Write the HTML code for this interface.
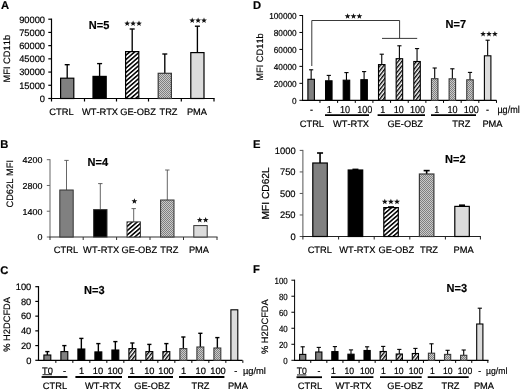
<!DOCTYPE html>
<html><head><meta charset="utf-8"><title>Figure</title>
<style>
html,body{margin:0;padding:0;background:#fff;}
body{width:520px;height:390px;overflow:hidden;}
svg{display:block;filter:grayscale(1);}
svg text{font-family:"Liberation Sans",sans-serif;fill:#000;stroke:#000;stroke-width:0.18px;font-kerning:none;text-rendering:geometricPrecision;}
</style></head><body>
<svg width="520" height="390" viewBox="0 0 520 390">
<defs>
<pattern id="hatch" patternUnits="userSpaceOnUse" width="3.25" height="4" patternTransform="rotate(49)">
<rect width="4" height="4" fill="#fff"/><rect width="1.55" height="4" fill="#000"/></pattern>
<pattern id="hatch2" patternUnits="userSpaceOnUse" width="2.9" height="4" patternTransform="rotate(38)">
<rect width="4" height="4" fill="#fff"/><rect width="1.35" height="4" fill="#000"/></pattern>
<pattern id="dots" patternUnits="userSpaceOnUse" width="2" height="2">
<rect width="2" height="2" fill="#cacaca"/><rect width="1" height="1" fill="#808080"/><rect x="1" y="1" width="1" height="1" fill="#808080"/></pattern>
</defs>
<rect width="520" height="390" fill="#fff"/>
<text x="1" y="8.9" font-size="11.2" text-anchor="start" font-weight="bold" fill="#000" stroke="#000" stroke-width="0.3">A</text>
<line x1="51.5" y1="18.599999999999998" x2="51.5" y2="98.5" stroke="#000" stroke-width="1.2"/>
<line x1="48.3" y1="98.5" x2="51.5" y2="98.5" stroke="#000" stroke-width="1.2"/>
<text x="45" y="101.8" font-size="9.3" text-anchor="end">0</text>
<line x1="48.3" y1="85.28" x2="51.5" y2="85.28" stroke="#000" stroke-width="1.2"/>
<text x="45" y="88.6" font-size="9.3" text-anchor="end">15000</text>
<line x1="48.3" y1="72.07" x2="51.5" y2="72.07" stroke="#000" stroke-width="1.2"/>
<text x="45" y="75.4" font-size="9.3" text-anchor="end">30000</text>
<line x1="48.3" y1="58.85" x2="51.5" y2="58.85" stroke="#000" stroke-width="1.2"/>
<text x="45" y="62.1" font-size="9.3" text-anchor="end">45000</text>
<line x1="48.3" y1="45.63" x2="51.5" y2="45.63" stroke="#000" stroke-width="1.2"/>
<text x="45" y="48.9" font-size="9.3" text-anchor="end">60000</text>
<line x1="48.3" y1="32.42" x2="51.5" y2="32.42" stroke="#000" stroke-width="1.2"/>
<text x="45" y="35.7" font-size="9.3" text-anchor="end">75000</text>
<line x1="48.3" y1="19.2" x2="51.5" y2="19.2" stroke="#000" stroke-width="1.2"/>
<text x="45" y="22.5" font-size="9.3" text-anchor="end">90000</text>
<line x1="50.9" y1="98.5" x2="214.6" y2="98.5" stroke="#000" stroke-width="1.2"/>
<line x1="51.5" y1="98.5" x2="51.5" y2="101.5" stroke="#000" stroke-width="1.2"/>
<line x1="84.5" y1="98.5" x2="84.5" y2="101.5" stroke="#000" stroke-width="1.2"/>
<line x1="116.5" y1="98.5" x2="116.5" y2="101.5" stroke="#000" stroke-width="1.2"/>
<line x1="148.5" y1="98.5" x2="148.5" y2="101.5" stroke="#000" stroke-width="1.2"/>
<line x1="181.3" y1="98.5" x2="181.3" y2="101.5" stroke="#000" stroke-width="1.2"/>
<line x1="214" y1="98.5" x2="214" y2="101.5" stroke="#000" stroke-width="1.2"/>
<line x1="67.2" y1="64.7" x2="67.2" y2="78.2" stroke="#000" stroke-width="1.35"/>
<line x1="64.7" y1="64.7" x2="69.7" y2="64.7" stroke="#000" stroke-width="1.35"/>
<rect x="60.6" y="78.2" width="13.2" height="20.3" fill="#808080" stroke="#000" stroke-width="1.2"/>
<line x1="99.6" y1="63.6" x2="99.6" y2="76.4" stroke="#000" stroke-width="1.35"/>
<line x1="97.1" y1="63.6" x2="102.1" y2="63.6" stroke="#000" stroke-width="1.35"/>
<rect x="93" y="76.4" width="13.2" height="22.1" fill="#000" stroke="#000" stroke-width="1.2"/>
<line x1="132.2" y1="29" x2="132.2" y2="51.6" stroke="#000" stroke-width="1.35"/>
<line x1="129.7" y1="29" x2="134.7" y2="29" stroke="#000" stroke-width="1.35"/>
<rect x="125.6" y="51.6" width="13.2" height="46.9" fill="url(#hatch)" stroke="#000" stroke-width="1.2"/>
<line x1="164.79999999999998" y1="54" x2="164.79999999999998" y2="73.3" stroke="#000" stroke-width="1.35"/>
<line x1="162.29999999999998" y1="54" x2="167.29999999999998" y2="54" stroke="#000" stroke-width="1.35"/>
<rect x="158.2" y="73.3" width="13.2" height="25.2" fill="url(#dots)" stroke="#3a3a3a" stroke-width="1.2"/>
<line x1="197.4" y1="26.2" x2="197.4" y2="52.6" stroke="#000" stroke-width="1.35"/>
<line x1="194.9" y1="26.2" x2="199.9" y2="26.2" stroke="#000" stroke-width="1.35"/>
<rect x="190.8" y="52.6" width="13.2" height="45.9" fill="#dcdcdc" stroke="#000" stroke-width="1.2"/>
<text x="61.5" y="114.8" font-size="9.3" text-anchor="middle">CTRL</text>
<text x="100" y="114.8" font-size="9.3" text-anchor="middle">WT-RTX</text>
<text x="138" y="114.8" font-size="9.3" text-anchor="middle">GE-OBZ</text>
<text x="168.5" y="114.8" font-size="9.3" text-anchor="middle">TRZ</text>
<text x="197" y="114.8" font-size="9.3" text-anchor="middle">PMA</text>
<text transform="translate(10,58.7) rotate(-90) scale(1,1)" font-size="9.3" text-anchor="middle">MFI CD11b</text>
<text transform="translate(88.8,29.3) scale(0.95,1)" font-size="11.6" text-anchor="start" font-weight="bold" fill="#000" stroke="#000" stroke-width="0.3">N=5</text>
<polygon points="127.20,20.54 127.95,22.55 130.10,22.65 128.42,23.99 128.99,26.06 127.20,24.87 125.41,26.06 125.98,23.99 124.30,22.65 126.45,22.55" fill="#111"/>
<polygon points="133.10,20.54 133.85,22.55 136.00,22.65 134.32,23.99 134.89,26.06 133.10,24.87 131.31,26.06 131.88,23.99 130.20,22.65 132.35,22.55" fill="#111"/>
<polygon points="139.00,20.54 139.75,22.55 141.90,22.65 140.22,23.99 140.79,26.06 139.00,24.87 137.21,26.06 137.78,23.99 136.10,22.65 138.25,22.55" fill="#111"/>
<polygon points="192.20,17.44 192.95,19.45 195.10,19.55 193.42,20.89 193.99,22.96 192.20,21.77 190.41,22.96 190.98,20.89 189.30,19.55 191.45,19.45" fill="#111"/>
<polygon points="198.10,17.44 198.85,19.45 201.00,19.55 199.32,20.89 199.89,22.96 198.10,21.77 196.31,22.96 196.88,20.89 195.20,19.55 197.35,19.45" fill="#111"/>
<polygon points="204.00,17.44 204.75,19.45 206.90,19.55 205.22,20.89 205.79,22.96 204.00,21.77 202.21,22.96 202.78,20.89 201.10,19.55 203.25,19.45" fill="#111"/>
<text x="0.2" y="147.6" font-size="11.2" text-anchor="start" font-weight="bold" fill="#000" stroke="#000" stroke-width="0.3">B</text>
<line x1="50" y1="159.2" x2="50" y2="237" stroke="#666" stroke-width="1"/>
<line x1="46.8" y1="237.0" x2="50" y2="237.0" stroke="#666" stroke-width="1"/>
<text transform="translate(42.4,240.3) scale(1.04,1)" font-size="8.6" text-anchor="end">0</text>
<line x1="46.8" y1="211.23" x2="50" y2="211.23" stroke="#666" stroke-width="1"/>
<text transform="translate(42.4,214.5) scale(1.04,1)" font-size="8.6" text-anchor="end">1400</text>
<line x1="46.8" y1="185.47" x2="50" y2="185.47" stroke="#666" stroke-width="1"/>
<text transform="translate(42.4,188.8) scale(1.04,1)" font-size="8.6" text-anchor="end">2800</text>
<line x1="46.8" y1="159.7" x2="50" y2="159.7" stroke="#666" stroke-width="1"/>
<text transform="translate(42.4,163.0) scale(1.04,1)" font-size="8.6" text-anchor="end">4200</text>
<line x1="49.5" y1="237" x2="217.5" y2="237" stroke="#333" stroke-width="1.2"/>
<line x1="50" y1="237" x2="50" y2="240" stroke="#333" stroke-width="1"/>
<line x1="83.2" y1="237" x2="83.2" y2="240" stroke="#333" stroke-width="1"/>
<line x1="116.6" y1="237" x2="116.6" y2="240" stroke="#333" stroke-width="1"/>
<line x1="150" y1="237" x2="150" y2="240" stroke="#333" stroke-width="1"/>
<line x1="183.5" y1="237" x2="183.5" y2="240" stroke="#333" stroke-width="1"/>
<line x1="217" y1="237" x2="217" y2="240" stroke="#333" stroke-width="1"/>
<line x1="66.5" y1="160.4" x2="66.5" y2="190" stroke="#555" stroke-width="0.9"/>
<line x1="64.3" y1="160.4" x2="68.7" y2="160.4" stroke="#555" stroke-width="0.9"/>
<rect x="59.8" y="190" width="13.4" height="47" fill="#808080" stroke="#333" stroke-width="1"/>
<line x1="100.3" y1="183.6" x2="100.3" y2="209.6" stroke="#555" stroke-width="0.9"/>
<line x1="98.1" y1="183.6" x2="102.5" y2="183.6" stroke="#555" stroke-width="0.9"/>
<rect x="93.6" y="209.6" width="13.4" height="27.4" fill="#000" stroke="#333" stroke-width="1"/>
<line x1="133.7" y1="208.6" x2="133.7" y2="221.9" stroke="#555" stroke-width="0.9"/>
<line x1="131.5" y1="208.6" x2="135.89999999999998" y2="208.6" stroke="#555" stroke-width="0.9"/>
<rect x="127" y="221.9" width="13.4" height="15.1" fill="url(#hatch)" stroke="#333" stroke-width="1"/>
<line x1="167.29999999999998" y1="170" x2="167.29999999999998" y2="200" stroke="#555" stroke-width="0.9"/>
<line x1="165.1" y1="170" x2="169.49999999999997" y2="170" stroke="#555" stroke-width="0.9"/>
<rect x="160.6" y="200" width="13.4" height="37" fill="url(#dots)" stroke="#333" stroke-width="1"/>
<rect x="193.8" y="225.6" width="13.4" height="11.4" fill="#dcdcdc" stroke="#333" stroke-width="1"/>
<text x="66" y="252.5" font-size="9.3" text-anchor="middle">CTRL</text>
<text x="101.2" y="252.5" font-size="9.3" text-anchor="middle">WT-RTX</text>
<text x="139.3" y="252.5" font-size="9.3" text-anchor="middle">GE-OBZ</text>
<text x="169.3" y="252.5" font-size="9.3" text-anchor="middle">TRZ</text>
<text x="199" y="252.5" font-size="9.3" text-anchor="middle">PMA</text>
<text transform="translate(12.8,183.8) rotate(-90) scale(1,1)" font-size="9.3" text-anchor="middle">CD62L MFI</text>
<text transform="translate(87.5,166) scale(0.95,1)" font-size="11.6" text-anchor="start" font-weight="bold" fill="#000" stroke="#000" stroke-width="0.3">N=4</text>
<polygon points="134.40,198.24 135.15,200.25 137.30,200.35 135.62,201.69 136.19,203.76 134.40,202.57 132.61,203.76 133.18,201.69 131.50,200.35 133.65,200.25" fill="#111"/>
<polygon points="199.75,217.04 200.50,219.05 202.65,219.15 200.97,220.49 201.54,222.56 199.75,221.37 197.96,222.56 198.53,220.49 196.85,219.15 199.00,219.05" fill="#111"/>
<polygon points="205.65,217.04 206.40,219.05 208.55,219.15 206.87,220.49 207.44,222.56 205.65,221.37 203.86,222.56 204.43,220.49 202.75,219.15 204.90,219.05" fill="#111"/>
<text x="253" y="147.6" font-size="11.2" text-anchor="start" font-weight="bold" fill="#000" stroke="#000" stroke-width="0.3">E</text>
<line x1="302.9" y1="149.9" x2="302.9" y2="236.5" stroke="#555" stroke-width="1"/>
<line x1="299.7" y1="236.5" x2="302.9" y2="236.5" stroke="#555" stroke-width="1"/>
<text x="295.6" y="239.8" font-size="9.4" text-anchor="end">0</text>
<line x1="299.7" y1="214.97" x2="302.9" y2="214.97" stroke="#555" stroke-width="1"/>
<text x="295.6" y="218.3" font-size="9.4" text-anchor="end">250</text>
<line x1="299.7" y1="193.45" x2="302.9" y2="193.45" stroke="#555" stroke-width="1"/>
<text x="295.6" y="196.8" font-size="9.4" text-anchor="end">500</text>
<line x1="299.7" y1="171.93" x2="302.9" y2="171.93" stroke="#555" stroke-width="1"/>
<text x="295.6" y="175.2" font-size="9.4" text-anchor="end">750</text>
<line x1="299.7" y1="150.4" x2="302.9" y2="150.4" stroke="#555" stroke-width="1"/>
<text x="295.6" y="153.7" font-size="9.4" text-anchor="end">1000</text>
<line x1="302.4" y1="236.5" x2="480.9" y2="236.5" stroke="#222" stroke-width="1.2"/>
<line x1="302.9" y1="236.5" x2="302.9" y2="239.5" stroke="#222" stroke-width="1"/>
<line x1="338.6" y1="236.5" x2="338.6" y2="239.5" stroke="#222" stroke-width="1"/>
<line x1="374.2" y1="236.5" x2="374.2" y2="239.5" stroke="#222" stroke-width="1"/>
<line x1="409.8" y1="236.5" x2="409.8" y2="239.5" stroke="#222" stroke-width="1"/>
<line x1="445.4" y1="236.5" x2="445.4" y2="239.5" stroke="#222" stroke-width="1"/>
<line x1="480.4" y1="236.5" x2="480.4" y2="239.5" stroke="#222" stroke-width="1"/>
<line x1="320.05" y1="153" x2="320.05" y2="163" stroke="#000" stroke-width="1.6"/>
<line x1="317.05" y1="153" x2="323.05" y2="153" stroke="#000" stroke-width="1.6"/>
<rect x="312.8" y="163" width="14.5" height="73.5" fill="#808080" stroke="#000" stroke-width="1.2"/>
<line x1="355.45" y1="169.4" x2="355.45" y2="170" stroke="#000" stroke-width="1.6"/>
<line x1="352.45" y1="169.4" x2="358.45" y2="169.4" stroke="#000" stroke-width="1.6"/>
<rect x="348.2" y="170" width="14.5" height="66.5" fill="#000" stroke="#000" stroke-width="1.2"/>
<line x1="391.05" y1="207" x2="391.05" y2="207.6" stroke="#000" stroke-width="1.6"/>
<line x1="388.05" y1="207" x2="394.05" y2="207" stroke="#000" stroke-width="1.6"/>
<rect x="383.8" y="207.6" width="14.5" height="28.9" fill="url(#hatch)" stroke="#000" stroke-width="1.2"/>
<line x1="426.65" y1="170.6" x2="426.65" y2="174" stroke="#000" stroke-width="1.6"/>
<line x1="423.65" y1="170.6" x2="429.65" y2="170.6" stroke="#000" stroke-width="1.6"/>
<rect x="419.4" y="174" width="14.5" height="62.5" fill="url(#dots)" stroke="#3a3a3a" stroke-width="1.2"/>
<line x1="462.05" y1="205.2" x2="462.05" y2="206.4" stroke="#000" stroke-width="1.6"/>
<line x1="459.05" y1="205.2" x2="465.05" y2="205.2" stroke="#000" stroke-width="1.6"/>
<rect x="454.8" y="206.4" width="14.5" height="30.1" fill="#dcdcdc" stroke="#000" stroke-width="1.2"/>
<text x="319.8" y="252.8" font-size="9.3" text-anchor="middle">CTRL</text>
<text x="357.3" y="252.8" font-size="9.3" text-anchor="middle">WT-RTX</text>
<text x="396.4" y="252.8" font-size="9.3" text-anchor="middle">GE-OBZ</text>
<text x="429" y="252.8" font-size="9.3" text-anchor="middle">TRZ</text>
<text x="463.7" y="252.8" font-size="9.3" text-anchor="middle">PMA</text>
<text transform="translate(268.6,193.4) rotate(-90) scale(1,1)" font-size="10.2" text-anchor="middle">MFI CD62L</text>
<text transform="translate(445,162.5) scale(0.95,1)" font-size="11.6" text-anchor="start" font-weight="bold" fill="#000" stroke="#000" stroke-width="0.3">N=2</text>
<polygon points="384.80,198.65 385.58,200.73 387.80,200.83 386.06,202.21 386.65,204.35 384.80,203.12 382.95,204.35 383.54,202.21 381.80,200.83 384.02,200.73" fill="#111"/>
<polygon points="390.90,198.65 391.68,200.73 393.90,200.83 392.16,202.21 392.75,204.35 390.90,203.12 389.05,204.35 389.64,202.21 387.90,200.83 390.12,200.73" fill="#111"/>
<polygon points="397.00,198.65 397.78,200.73 400.00,200.83 398.26,202.21 398.85,204.35 397.00,203.12 395.15,204.35 395.74,202.21 394.00,200.83 396.22,200.73" fill="#111"/>
<text x="0.3" y="274.2" font-size="11.2" text-anchor="start" font-weight="bold" fill="#000" stroke="#000" stroke-width="0.3">C</text>
<line x1="38.5" y1="286.09999999999997" x2="38.5" y2="360.3" stroke="#000" stroke-width="1.2"/>
<line x1="35.3" y1="360.3" x2="38.5" y2="360.3" stroke="#000" stroke-width="1.2"/>
<text x="31.3" y="363.6" font-size="9.3" text-anchor="end">0</text>
<line x1="35.3" y1="345.58" x2="38.5" y2="345.58" stroke="#000" stroke-width="1.2"/>
<text x="31.3" y="348.9" font-size="9.3" text-anchor="end">20</text>
<line x1="35.3" y1="330.86" x2="38.5" y2="330.86" stroke="#000" stroke-width="1.2"/>
<text x="31.3" y="334.2" font-size="9.3" text-anchor="end">40</text>
<line x1="35.3" y1="316.14" x2="38.5" y2="316.14" stroke="#000" stroke-width="1.2"/>
<text x="31.3" y="319.4" font-size="9.3" text-anchor="end">60</text>
<line x1="35.3" y1="301.42" x2="38.5" y2="301.42" stroke="#000" stroke-width="1.2"/>
<text x="31.3" y="304.7" font-size="9.3" text-anchor="end">80</text>
<line x1="35.3" y1="286.7" x2="38.5" y2="286.7" stroke="#000" stroke-width="1.2"/>
<text x="31.3" y="290.0" font-size="9.3" text-anchor="end">100</text>
<line x1="37.9" y1="360.3" x2="242.5" y2="360.3" stroke="#000" stroke-width="1.2"/>
<line x1="55.85" y1="360.3" x2="55.85" y2="362.90000000000003" stroke="#000" stroke-width="1"/>
<line x1="72.85" y1="360.3" x2="72.85" y2="362.90000000000003" stroke="#000" stroke-width="1"/>
<line x1="89.85" y1="360.3" x2="89.85" y2="362.90000000000003" stroke="#000" stroke-width="1"/>
<line x1="106.85" y1="360.3" x2="106.85" y2="362.90000000000003" stroke="#000" stroke-width="1"/>
<line x1="123.85" y1="360.3" x2="123.85" y2="362.90000000000003" stroke="#000" stroke-width="1"/>
<line x1="140.85" y1="360.3" x2="140.85" y2="362.90000000000003" stroke="#000" stroke-width="1"/>
<line x1="157.85" y1="360.3" x2="157.85" y2="362.90000000000003" stroke="#000" stroke-width="1"/>
<line x1="174.85" y1="360.3" x2="174.85" y2="362.90000000000003" stroke="#000" stroke-width="1"/>
<line x1="191.85" y1="360.3" x2="191.85" y2="362.90000000000003" stroke="#000" stroke-width="1"/>
<line x1="208.85" y1="360.3" x2="208.85" y2="362.90000000000003" stroke="#000" stroke-width="1"/>
<line x1="225.85" y1="360.3" x2="225.85" y2="362.90000000000003" stroke="#000" stroke-width="1"/>
<line x1="242.85" y1="360.3" x2="242.85" y2="362.90000000000003" stroke="#000" stroke-width="1"/>
<line x1="47.35" y1="351.6" x2="47.35" y2="355" stroke="#000" stroke-width="1.4"/>
<line x1="45.25" y1="351.6" x2="49.45" y2="351.6" stroke="#000" stroke-width="1.4"/>
<rect x="43.9" y="355" width="6.9" height="5.3" fill="#808080" stroke="#000" stroke-width="1.1"/>
<line x1="64.35" y1="345.6" x2="64.35" y2="351.6" stroke="#000" stroke-width="1.4"/>
<line x1="62.24999999999999" y1="345.6" x2="66.44999999999999" y2="345.6" stroke="#000" stroke-width="1.4"/>
<rect x="60.9" y="351.6" width="6.9" height="8.7" fill="#808080" stroke="#000" stroke-width="1.1"/>
<line x1="81.35" y1="338.4" x2="81.35" y2="349" stroke="#000" stroke-width="1.4"/>
<line x1="79.25" y1="338.4" x2="83.44999999999999" y2="338.4" stroke="#000" stroke-width="1.4"/>
<rect x="77.9" y="349" width="6.9" height="11.3" fill="#000" stroke="#000" stroke-width="1.1"/>
<line x1="98.35" y1="343.6" x2="98.35" y2="351.9" stroke="#000" stroke-width="1.4"/>
<line x1="96.25" y1="343.6" x2="100.44999999999999" y2="343.6" stroke="#000" stroke-width="1.4"/>
<rect x="94.9" y="351.9" width="6.9" height="8.4" fill="#000" stroke="#000" stroke-width="1.1"/>
<line x1="115.35" y1="341.6" x2="115.35" y2="350" stroke="#000" stroke-width="1.4"/>
<line x1="113.25" y1="341.6" x2="117.44999999999999" y2="341.6" stroke="#000" stroke-width="1.4"/>
<rect x="111.9" y="350" width="6.9" height="10.3" fill="#000" stroke="#000" stroke-width="1.1"/>
<line x1="132.35" y1="343" x2="132.35" y2="348.6" stroke="#000" stroke-width="1.4"/>
<line x1="130.25" y1="343" x2="134.45" y2="343" stroke="#000" stroke-width="1.4"/>
<rect x="128.9" y="348.6" width="6.9" height="11.7" fill="url(#hatch2)" stroke="#000" stroke-width="1.1"/>
<line x1="149.35" y1="344.4" x2="149.35" y2="351.6" stroke="#000" stroke-width="1.4"/>
<line x1="147.25" y1="344.4" x2="151.45" y2="344.4" stroke="#000" stroke-width="1.4"/>
<rect x="145.9" y="351.6" width="6.9" height="8.7" fill="url(#hatch2)" stroke="#000" stroke-width="1.1"/>
<line x1="166.35" y1="343.6" x2="166.35" y2="351.6" stroke="#000" stroke-width="1.4"/>
<line x1="164.25" y1="343.6" x2="168.45" y2="343.6" stroke="#000" stroke-width="1.4"/>
<rect x="162.9" y="351.6" width="6.9" height="8.7" fill="url(#hatch2)" stroke="#000" stroke-width="1.1"/>
<line x1="183.35" y1="337" x2="183.35" y2="348.6" stroke="#000" stroke-width="1.4"/>
<line x1="181.25" y1="337" x2="185.45" y2="337" stroke="#000" stroke-width="1.4"/>
<rect x="179.9" y="348.6" width="6.9" height="11.7" fill="url(#dots)" stroke="#3a3a3a" stroke-width="1.1"/>
<line x1="200.35" y1="333.3" x2="200.35" y2="347" stroke="#000" stroke-width="1.4"/>
<line x1="198.25" y1="333.3" x2="202.45" y2="333.3" stroke="#000" stroke-width="1.4"/>
<rect x="196.9" y="347" width="6.9" height="13.3" fill="url(#dots)" stroke="#3a3a3a" stroke-width="1.1"/>
<line x1="217.35" y1="337.6" x2="217.35" y2="348" stroke="#000" stroke-width="1.4"/>
<line x1="215.25" y1="337.6" x2="219.45" y2="337.6" stroke="#000" stroke-width="1.4"/>
<rect x="213.9" y="348" width="6.9" height="12.3" fill="url(#dots)" stroke="#3a3a3a" stroke-width="1.1"/>
<rect x="230.9" y="309.8" width="6.9" height="50.5" fill="#dcdcdc" stroke="#000" stroke-width="1.1"/>
<text x="47.5" y="373.7" font-size="9.3" text-anchor="middle">T0</text>
<text x="64.5" y="373.7" font-size="9.3" text-anchor="middle">-</text>
<text x="81.5" y="373.7" font-size="9.3" text-anchor="middle">1</text>
<text x="98" y="373.7" font-size="9.3" text-anchor="middle">10</text>
<text x="115.2" y="373.7" font-size="9.3" text-anchor="middle">100</text>
<text x="132" y="373.7" font-size="9.3" text-anchor="middle">1</text>
<text x="149.3" y="373.7" font-size="9.3" text-anchor="middle">10</text>
<text x="166" y="373.7" font-size="9.3" text-anchor="middle">100</text>
<text x="183.5" y="373.7" font-size="9.3" text-anchor="middle">1</text>
<text x="200.7" y="373.7" font-size="9.3" text-anchor="middle">10</text>
<text x="218" y="373.7" font-size="9.3" text-anchor="middle">100</text>
<text x="235.8" y="373.7" font-size="9.3" text-anchor="middle">-</text>
<line x1="41.6" y1="377" x2="67.4" y2="377" stroke="#000" stroke-width="1.8"/>
<line x1="75.4" y1="377" x2="122" y2="377" stroke="#000" stroke-width="1.8"/>
<line x1="128" y1="377" x2="173" y2="377" stroke="#000" stroke-width="1.8"/>
<line x1="179" y1="377" x2="224.4" y2="377" stroke="#000" stroke-width="1.8"/>
<text x="55" y="389" font-size="9.3" text-anchor="middle">CTRL</text>
<text x="103" y="389" font-size="9.3" text-anchor="middle">WT-RTX</text>
<text x="152" y="389" font-size="9.3" text-anchor="middle">GE-OBZ</text>
<text x="200.5" y="389" font-size="9.3" text-anchor="middle">TRZ</text>
<text x="238" y="389" font-size="9.3" text-anchor="middle">PMA</text>
<line x1="42.5" y1="374.7" x2="52" y2="374.7" stroke="#000" stroke-width="0.9"/>
<text transform="translate(9.6,324.4) rotate(-90) scale(1,1)" font-size="9.3" text-anchor="middle">% H2DCFDA</text>
<text transform="translate(84,294.2) scale(0.95,1)" font-size="11.6" text-anchor="start" font-weight="bold" fill="#000" stroke="#000" stroke-width="0.3">N=3</text>
<text x="243" y="373.7" font-size="9.3" text-anchor="start">µg/ml</text>
<text x="253.1" y="273.3" font-size="11.2" text-anchor="start" font-weight="bold" fill="#000" stroke="#000" stroke-width="0.3">F</text>
<line x1="294.6" y1="279.7" x2="294.6" y2="360.3" stroke="#000" stroke-width="1"/>
<line x1="291.40000000000003" y1="360.3" x2="294.6" y2="360.3" stroke="#000" stroke-width="1"/>
<text transform="translate(287.7,363.6) scale(0.88,1)" font-size="9" text-anchor="end">0</text>
<line x1="291.40000000000003" y1="344.28" x2="294.6" y2="344.28" stroke="#000" stroke-width="1"/>
<text transform="translate(287.7,347.6) scale(0.88,1)" font-size="9" text-anchor="end">20</text>
<line x1="291.40000000000003" y1="328.26" x2="294.6" y2="328.26" stroke="#000" stroke-width="1"/>
<text transform="translate(287.7,331.6) scale(0.88,1)" font-size="9" text-anchor="end">40</text>
<line x1="291.40000000000003" y1="312.24" x2="294.6" y2="312.24" stroke="#000" stroke-width="1"/>
<text transform="translate(287.7,315.5) scale(0.88,1)" font-size="9" text-anchor="end">60</text>
<line x1="291.40000000000003" y1="296.22" x2="294.6" y2="296.22" stroke="#000" stroke-width="1"/>
<text transform="translate(287.7,299.5) scale(0.88,1)" font-size="9" text-anchor="end">80</text>
<line x1="291.40000000000003" y1="280.2" x2="294.6" y2="280.2" stroke="#000" stroke-width="1"/>
<text transform="translate(287.7,283.5) scale(0.88,1)" font-size="9" text-anchor="end">100</text>
<line x1="294.0" y1="360.3" x2="488.5" y2="360.3" stroke="#000" stroke-width="1.2"/>
<line x1="310.75" y1="360.3" x2="310.75" y2="362.90000000000003" stroke="#000" stroke-width="1"/>
<line x1="326.85" y1="360.3" x2="326.85" y2="362.90000000000003" stroke="#000" stroke-width="1"/>
<line x1="342.95" y1="360.3" x2="342.95" y2="362.90000000000003" stroke="#000" stroke-width="1"/>
<line x1="359.05" y1="360.3" x2="359.05" y2="362.90000000000003" stroke="#000" stroke-width="1"/>
<line x1="375.15" y1="360.3" x2="375.15" y2="362.90000000000003" stroke="#000" stroke-width="1"/>
<line x1="391.25" y1="360.3" x2="391.25" y2="362.90000000000003" stroke="#000" stroke-width="1"/>
<line x1="407.35" y1="360.3" x2="407.35" y2="362.90000000000003" stroke="#000" stroke-width="1"/>
<line x1="423.45" y1="360.3" x2="423.45" y2="362.90000000000003" stroke="#000" stroke-width="1"/>
<line x1="439.55" y1="360.3" x2="439.55" y2="362.90000000000003" stroke="#000" stroke-width="1"/>
<line x1="455.65" y1="360.3" x2="455.65" y2="362.90000000000003" stroke="#000" stroke-width="1"/>
<line x1="471.75" y1="360.3" x2="471.75" y2="362.90000000000003" stroke="#000" stroke-width="1"/>
<line x1="487.85" y1="360.3" x2="487.85" y2="362.90000000000003" stroke="#000" stroke-width="1"/>
<line x1="302.7" y1="346.8" x2="302.7" y2="354.4" stroke="#000" stroke-width="1.1"/>
<line x1="300.59999999999997" y1="346.8" x2="304.8" y2="346.8" stroke="#000" stroke-width="1.1"/>
<rect x="299.6" y="354.4" width="6.2" height="5.9" fill="#808080" stroke="#000" stroke-width="1.1"/>
<line x1="318.8" y1="347.4" x2="318.8" y2="352" stroke="#000" stroke-width="1.1"/>
<line x1="316.7" y1="347.4" x2="320.90000000000003" y2="347.4" stroke="#000" stroke-width="1.1"/>
<rect x="315.7" y="352" width="6.2" height="8.3" fill="#808080" stroke="#000" stroke-width="1.1"/>
<line x1="334.9" y1="346.6" x2="334.9" y2="351.6" stroke="#000" stroke-width="1.1"/>
<line x1="332.79999999999995" y1="346.6" x2="337.0" y2="346.6" stroke="#000" stroke-width="1.1"/>
<rect x="331.8" y="351.6" width="6.2" height="8.7" fill="#000" stroke="#000" stroke-width="1.1"/>
<line x1="351.0" y1="349.9" x2="351.0" y2="354.2" stroke="#000" stroke-width="1.1"/>
<line x1="348.9" y1="349.9" x2="353.1" y2="349.9" stroke="#000" stroke-width="1.1"/>
<rect x="347.9" y="354.2" width="6.2" height="6.1" fill="#000" stroke="#000" stroke-width="1.1"/>
<line x1="367.1" y1="346.8" x2="367.1" y2="350.5" stroke="#000" stroke-width="1.1"/>
<line x1="365.0" y1="346.8" x2="369.20000000000005" y2="346.8" stroke="#000" stroke-width="1.1"/>
<rect x="364.0" y="350.5" width="6.2" height="9.8" fill="#000" stroke="#000" stroke-width="1.1"/>
<line x1="383.2" y1="346.4" x2="383.2" y2="351.5" stroke="#000" stroke-width="1.1"/>
<line x1="381.09999999999997" y1="346.4" x2="385.3" y2="346.4" stroke="#000" stroke-width="1.1"/>
<rect x="380.1" y="351.5" width="6.2" height="8.8" fill="url(#hatch2)" stroke="#000" stroke-width="1.1"/>
<line x1="399.3" y1="349.4" x2="399.3" y2="354" stroke="#000" stroke-width="1.1"/>
<line x1="397.2" y1="349.4" x2="401.40000000000003" y2="349.4" stroke="#000" stroke-width="1.1"/>
<rect x="396.2" y="354" width="6.2" height="6.3" fill="url(#hatch2)" stroke="#000" stroke-width="1.1"/>
<line x1="415.4" y1="348.4" x2="415.4" y2="353.5" stroke="#000" stroke-width="1.1"/>
<line x1="413.29999999999995" y1="348.4" x2="417.5" y2="348.4" stroke="#000" stroke-width="1.1"/>
<rect x="412.3" y="353.5" width="6.2" height="6.8" fill="url(#hatch2)" stroke="#000" stroke-width="1.1"/>
<line x1="431.5" y1="343.8" x2="431.5" y2="353.2" stroke="#000" stroke-width="1.1"/>
<line x1="429.4" y1="343.8" x2="433.6" y2="343.8" stroke="#000" stroke-width="1.1"/>
<rect x="428.4" y="353.2" width="6.2" height="7.1" fill="url(#dots)" stroke="#3a3a3a" stroke-width="1.1"/>
<line x1="447.6" y1="350.3" x2="447.6" y2="354.4" stroke="#000" stroke-width="1.1"/>
<line x1="445.5" y1="350.3" x2="449.70000000000005" y2="350.3" stroke="#000" stroke-width="1.1"/>
<rect x="444.5" y="354.4" width="6.2" height="5.9" fill="url(#dots)" stroke="#3a3a3a" stroke-width="1.1"/>
<line x1="463.7" y1="350" x2="463.7" y2="355.3" stroke="#000" stroke-width="1.1"/>
<line x1="461.59999999999997" y1="350" x2="465.8" y2="350" stroke="#000" stroke-width="1.1"/>
<rect x="460.6" y="355.3" width="6.2" height="5.0" fill="url(#dots)" stroke="#3a3a3a" stroke-width="1.1"/>
<line x1="479.8" y1="308.2" x2="479.8" y2="324" stroke="#000" stroke-width="1.1"/>
<line x1="477.7" y1="308.2" x2="481.90000000000003" y2="308.2" stroke="#000" stroke-width="1.1"/>
<rect x="476.7" y="324" width="6.2" height="36.3" fill="#dcdcdc" stroke="#000" stroke-width="1.1"/>
<text transform="translate(301.8,374.4) scale(0.93,1)" font-size="9.3" text-anchor="middle">T0</text>
<text transform="translate(319,374.4) scale(0.93,1)" font-size="9.3" text-anchor="middle">-</text>
<text transform="translate(333.5,374.4) scale(0.93,1)" font-size="9.3" text-anchor="middle">1</text>
<text transform="translate(349.3,374.4) scale(0.93,1)" font-size="9.3" text-anchor="middle">10</text>
<text transform="translate(367.1,374.4) scale(0.93,1)" font-size="9.3" text-anchor="middle">100</text>
<text transform="translate(383.5,374.4) scale(0.93,1)" font-size="9.3" text-anchor="middle">1</text>
<text transform="translate(398.7,374.4) scale(0.93,1)" font-size="9.3" text-anchor="middle">10</text>
<text transform="translate(416,374.4) scale(0.93,1)" font-size="9.3" text-anchor="middle">100</text>
<text transform="translate(432.5,374.4) scale(0.93,1)" font-size="9.3" text-anchor="middle">1</text>
<text transform="translate(447.7,374.4) scale(0.93,1)" font-size="9.3" text-anchor="middle">10</text>
<text transform="translate(465,374.4) scale(0.93,1)" font-size="9.3" text-anchor="middle">100</text>
<text transform="translate(479.8,374.4) scale(0.93,1)" font-size="9.3" text-anchor="middle">-</text>
<line x1="296.5" y1="377.2" x2="322" y2="377.2" stroke="#000" stroke-width="1.8"/>
<line x1="331" y1="377.2" x2="373.4" y2="377.2" stroke="#000" stroke-width="1.8"/>
<line x1="380" y1="377.2" x2="421.7" y2="377.2" stroke="#000" stroke-width="1.8"/>
<line x1="427.7" y1="377.2" x2="468.7" y2="377.2" stroke="#000" stroke-width="1.8"/>
<text x="310" y="388.8" font-size="9.3" text-anchor="middle">CTRL</text>
<text x="353.5" y="388.8" font-size="9.3" text-anchor="middle">WT-RTX</text>
<text x="405" y="388.8" font-size="9.3" text-anchor="middle">GE-OBZ</text>
<text x="450.5" y="388.8" font-size="9.3" text-anchor="middle">TRZ</text>
<text x="484" y="388.8" font-size="9.3" text-anchor="middle">PMA</text>
<line x1="297" y1="374.95" x2="306.4" y2="374.95" stroke="#000" stroke-width="0.9"/>
<text transform="translate(268,326.6) rotate(-90) scale(1,1)" font-size="9.3" text-anchor="middle">% H2DCFDA</text>
<text transform="translate(446.6,292) scale(0.95,1)" font-size="11.6" text-anchor="start" font-weight="bold" fill="#000" stroke="#000" stroke-width="0.3">N=3</text>
<text transform="translate(486,374.3) scale(0.93,1)" font-size="9.3" text-anchor="start">µg/ml</text>
<text x="253" y="9.2" font-size="11.2" text-anchor="start" font-weight="bold" fill="#000" stroke="#000" stroke-width="0.3">D</text>
<line x1="302.6" y1="15.0" x2="302.6" y2="100.3" stroke="#000" stroke-width="1"/>
<line x1="299.40000000000003" y1="100.3" x2="302.6" y2="100.3" stroke="#000" stroke-width="1"/>
<text transform="translate(296.7,104.0) scale(0.95,1)" font-size="8.7" text-anchor="end">0</text>
<line x1="299.40000000000003" y1="83.34" x2="302.6" y2="83.34" stroke="#000" stroke-width="1"/>
<text transform="translate(296.7,87.0) scale(0.95,1)" font-size="8.7" text-anchor="end">20000</text>
<line x1="299.40000000000003" y1="66.38" x2="302.6" y2="66.38" stroke="#000" stroke-width="1"/>
<text transform="translate(296.7,70.1) scale(0.95,1)" font-size="8.7" text-anchor="end">40000</text>
<line x1="299.40000000000003" y1="49.42" x2="302.6" y2="49.42" stroke="#000" stroke-width="1"/>
<text transform="translate(296.7,53.1) scale(0.95,1)" font-size="8.7" text-anchor="end">60000</text>
<line x1="299.40000000000003" y1="32.46" x2="302.6" y2="32.46" stroke="#000" stroke-width="1"/>
<text transform="translate(296.7,36.2) scale(0.95,1)" font-size="8.7" text-anchor="end">80000</text>
<line x1="299.40000000000003" y1="15.5" x2="302.6" y2="15.5" stroke="#000" stroke-width="1"/>
<text transform="translate(296.7,19.2) scale(0.95,1)" font-size="8.7" text-anchor="end">100000</text>
<line x1="302.0" y1="100.3" x2="496.5" y2="100.3" stroke="#000" stroke-width="1.2"/>
<line x1="319.97" y1="100.3" x2="319.97" y2="102.89999999999999" stroke="#000" stroke-width="1"/>
<line x1="337.62" y1="100.3" x2="337.62" y2="102.89999999999999" stroke="#000" stroke-width="1"/>
<line x1="355.27" y1="100.3" x2="355.27" y2="102.89999999999999" stroke="#000" stroke-width="1"/>
<line x1="372.92" y1="100.3" x2="372.92" y2="102.89999999999999" stroke="#000" stroke-width="1"/>
<line x1="390.57" y1="100.3" x2="390.57" y2="102.89999999999999" stroke="#000" stroke-width="1"/>
<line x1="408.22" y1="100.3" x2="408.22" y2="102.89999999999999" stroke="#000" stroke-width="1"/>
<line x1="425.88" y1="100.3" x2="425.88" y2="102.89999999999999" stroke="#000" stroke-width="1"/>
<line x1="443.52" y1="100.3" x2="443.52" y2="102.89999999999999" stroke="#000" stroke-width="1"/>
<line x1="461.17" y1="100.3" x2="461.17" y2="102.89999999999999" stroke="#000" stroke-width="1"/>
<line x1="478.82" y1="100.3" x2="478.82" y2="102.89999999999999" stroke="#000" stroke-width="1"/>
<line x1="496.47" y1="100.3" x2="496.47" y2="102.89999999999999" stroke="#000" stroke-width="1"/>
<line x1="311.15" y1="69.8" x2="311.15" y2="79.3" stroke="#000" stroke-width="1.1"/>
<line x1="309.04999999999995" y1="69.8" x2="313.25" y2="69.8" stroke="#000" stroke-width="1.1"/>
<rect x="307.9" y="79.3" width="6.5" height="21.0" fill="#808080" stroke="#000" stroke-width="1.1"/>
<line x1="328.8" y1="75.4" x2="328.8" y2="80.8" stroke="#000" stroke-width="1.1"/>
<line x1="326.7" y1="75.4" x2="330.90000000000003" y2="75.4" stroke="#000" stroke-width="1.1"/>
<rect x="325.55" y="80.8" width="6.5" height="19.5" fill="#000" stroke="#000" stroke-width="1.1"/>
<line x1="346.45" y1="72.6" x2="346.45" y2="80.2" stroke="#000" stroke-width="1.1"/>
<line x1="344.34999999999997" y1="72.6" x2="348.55" y2="72.6" stroke="#000" stroke-width="1.1"/>
<rect x="343.2" y="80.2" width="6.5" height="20.1" fill="#000" stroke="#000" stroke-width="1.1"/>
<line x1="364.1" y1="71.6" x2="364.1" y2="79.7" stroke="#000" stroke-width="1.1"/>
<line x1="362.0" y1="71.6" x2="366.20000000000005" y2="71.6" stroke="#000" stroke-width="1.1"/>
<rect x="360.85" y="79.7" width="6.5" height="20.6" fill="#000" stroke="#000" stroke-width="1.1"/>
<line x1="381.75" y1="54.2" x2="381.75" y2="64.6" stroke="#000" stroke-width="1.1"/>
<line x1="379.65" y1="54.2" x2="383.85" y2="54.2" stroke="#000" stroke-width="1.1"/>
<rect x="378.5" y="64.6" width="6.5" height="35.7" fill="url(#hatch2)" stroke="#000" stroke-width="1.1"/>
<line x1="399.4" y1="45.8" x2="399.4" y2="58.7" stroke="#000" stroke-width="1.1"/>
<line x1="397.29999999999995" y1="45.8" x2="401.5" y2="45.8" stroke="#000" stroke-width="1.1"/>
<rect x="396.15" y="58.7" width="6.5" height="41.6" fill="url(#hatch2)" stroke="#000" stroke-width="1.1"/>
<line x1="417.05" y1="48.6" x2="417.05" y2="61.5" stroke="#000" stroke-width="1.1"/>
<line x1="414.95" y1="48.6" x2="419.15000000000003" y2="48.6" stroke="#000" stroke-width="1.1"/>
<rect x="413.8" y="61.5" width="6.5" height="38.8" fill="url(#hatch2)" stroke="#000" stroke-width="1.1"/>
<line x1="434.7" y1="68" x2="434.7" y2="78.7" stroke="#000" stroke-width="1.1"/>
<line x1="432.59999999999997" y1="68" x2="436.8" y2="68" stroke="#000" stroke-width="1.1"/>
<rect x="431.45" y="78.7" width="6.5" height="21.6" fill="url(#dots)" stroke="#3a3a3a" stroke-width="1.1"/>
<line x1="452.35" y1="68.8" x2="452.35" y2="78.8" stroke="#000" stroke-width="1.1"/>
<line x1="450.25" y1="68.8" x2="454.45000000000005" y2="68.8" stroke="#000" stroke-width="1.1"/>
<rect x="449.1" y="78.8" width="6.5" height="21.5" fill="url(#dots)" stroke="#3a3a3a" stroke-width="1.1"/>
<line x1="470.0" y1="72.4" x2="470.0" y2="79.8" stroke="#000" stroke-width="1.1"/>
<line x1="467.9" y1="72.4" x2="472.1" y2="72.4" stroke="#000" stroke-width="1.1"/>
<rect x="466.75" y="79.8" width="6.5" height="20.5" fill="url(#dots)" stroke="#3a3a3a" stroke-width="1.1"/>
<line x1="487.65" y1="40.2" x2="487.65" y2="55.8" stroke="#000" stroke-width="1.1"/>
<line x1="485.54999999999995" y1="40.2" x2="489.75" y2="40.2" stroke="#000" stroke-width="1.1"/>
<rect x="484.4" y="55.8" width="6.5" height="44.5" fill="#dcdcdc" stroke="#000" stroke-width="1.1"/>
<text transform="translate(311.6,112.7) scale(0.89,1)" font-size="10.2" text-anchor="middle">-</text>
<text transform="translate(329.2,112.7) scale(0.89,1)" font-size="10.2" text-anchor="middle">1</text>
<text transform="translate(345,112.7) scale(0.89,1)" font-size="10.2" text-anchor="middle">10</text>
<text transform="translate(364.7,112.7) scale(0.89,1)" font-size="10.2" text-anchor="middle">100</text>
<text transform="translate(382.8,112.7) scale(0.89,1)" font-size="10.2" text-anchor="middle">1</text>
<text transform="translate(398.7,112.7) scale(0.89,1)" font-size="10.2" text-anchor="middle">10</text>
<text transform="translate(417.6,112.7) scale(0.89,1)" font-size="10.2" text-anchor="middle">100</text>
<text transform="translate(436.8,112.7) scale(0.89,1)" font-size="10.2" text-anchor="middle">1</text>
<text transform="translate(452.6,112.7) scale(0.89,1)" font-size="10.2" text-anchor="middle">10</text>
<text transform="translate(471.2,112.7) scale(0.89,1)" font-size="10.2" text-anchor="middle">100</text>
<text transform="translate(487.6,112.7) scale(0.89,1)" font-size="10.2" text-anchor="middle">-</text>
<line x1="325" y1="115.2" x2="369" y2="115.2" stroke="#000" stroke-width="1.8"/>
<line x1="377.6" y1="115.2" x2="425" y2="115.2" stroke="#000" stroke-width="1.8"/>
<line x1="431" y1="115.2" x2="476" y2="115.2" stroke="#000" stroke-width="1.8"/>
<text x="311.9" y="127.2" font-size="9.3" text-anchor="middle">CTRL</text>
<text x="351" y="127.2" font-size="9.3" text-anchor="middle">WT-RTX</text>
<text x="405.2" y="127.2" font-size="9.3" text-anchor="middle">GE-OBZ</text>
<text x="461.3" y="127.2" font-size="9.3" text-anchor="middle">TRZ</text>
<text x="492.5" y="127.2" font-size="9.3" text-anchor="middle">PMA</text>
<text transform="translate(263,57) rotate(-90) scale(1,1)" font-size="9.3" text-anchor="middle">MFI CD11b</text>
<text transform="translate(445.6,28) scale(0.95,1)" font-size="11.6" text-anchor="start" font-weight="bold" fill="#000" stroke="#000" stroke-width="0.3">N=7</text>
<text transform="translate(497.4,112.6) scale(0.89,1)" font-size="10.2" text-anchor="start">µg/ml</text>
<polyline points="311.8,66 311.8,20.5 399.6,20.5 399.6,38.4" fill="none" stroke="#222" stroke-width="0.9"/>
<line x1="382" y1="38.4" x2="417.2" y2="38.4" stroke="#222" stroke-width="0.9"/>
<polygon points="347.60,13.24 348.35,15.25 350.50,15.35 348.82,16.69 349.39,18.76 347.60,17.57 345.81,18.76 346.38,16.69 344.70,15.35 346.85,15.25" fill="#111"/>
<polygon points="353.50,13.24 354.25,15.25 356.40,15.35 354.72,16.69 355.29,18.76 353.50,17.57 351.71,18.76 352.28,16.69 350.60,15.35 352.75,15.25" fill="#111"/>
<polygon points="359.40,13.24 360.15,15.25 362.30,15.35 360.62,16.69 361.19,18.76 359.40,17.57 357.61,18.76 358.18,16.69 356.50,15.35 358.65,15.25" fill="#111"/>
<polygon points="483.10,30.94 483.85,32.95 486.00,33.05 484.32,34.39 484.89,36.46 483.10,35.27 481.31,36.46 481.88,34.39 480.20,33.05 482.35,32.95" fill="#111"/>
<polygon points="489.00,30.94 489.75,32.95 491.90,33.05 490.22,34.39 490.79,36.46 489.00,35.27 487.21,36.46 487.78,34.39 486.10,33.05 488.25,32.95" fill="#111"/>
<polygon points="494.90,30.94 495.65,32.95 497.80,33.05 496.12,34.39 496.69,36.46 494.90,35.27 493.11,36.46 493.68,34.39 492.00,33.05 494.15,32.95" fill="#111"/>
</svg>
</body></html>
